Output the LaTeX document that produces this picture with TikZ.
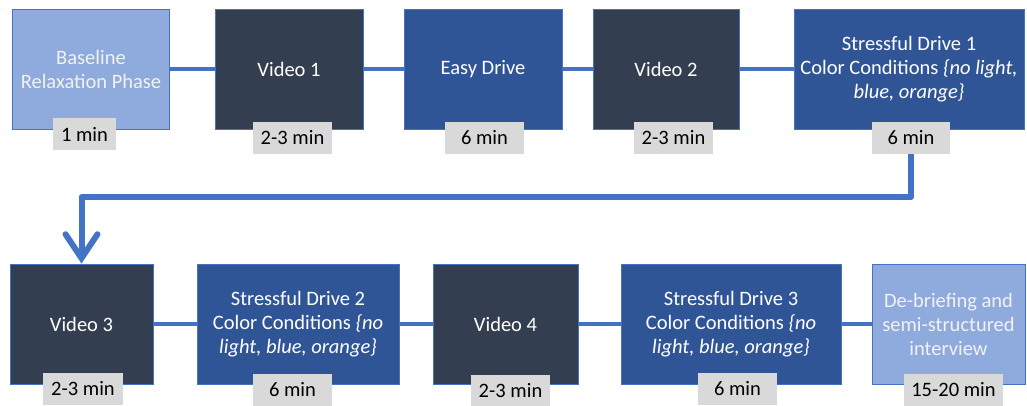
\documentclass[tikz,border=0pt]{standalone}
\usepackage{fontspec}
\setmainfont{Carlito}
\usetikzlibrary{arrows.meta}
\definecolor{lightbl}{HTML}{8FAADC}
\definecolor{darkbox}{HTML}{333F50}
\definecolor{midbl}{HTML}{2F5597}
\definecolor{edgebl}{HTML}{4472C4}
\definecolor{lblgray}{HTML}{D9D9D9}
\definecolor{paletext}{HTML}{F2F2F2}
\tikzset{
  phase/.style={draw=edgebl, line width=0.8pt, minimum height=120pt, inner sep=2pt,
    align=center, text=white, font=\fontsize{20.5}{24}\selectfont},
  light/.style={phase, fill=lightbl, text=paletext},
  dark/.style={phase, fill=darkbox},
  mid/.style={phase, fill=midbl},
  dur/.style={fill=lblgray, minimum height=32pt, inner sep=0pt, text=black,
    font=\fontsize{20.5}{24}\selectfont},
  link/.style={draw=edgebl, line width=4pt},
  flow/.style={draw=edgebl, line width=6pt, line join=round,
    -{Straight Barb[length=24pt, width=32pt, line cap=round]}}
}
\begin{document}
\begin{tikzpicture}[x=1pt,y=-1pt]
\useasboundingbox[fill=white] (0,0) rectangle (1027,405);
% top row
\node[light, minimum width=157pt] (base) at (91,69) {Baseline\\Relaxation Phase};
\node[dark, minimum width=148pt] (v1) at (289,69) {Video 1};
\node[mid, minimum width=158pt] (easy) at (483,69) {Easy Drive};
\node[dark, minimum width=146pt] (v2) at (666,69) {Video 2};
\node[mid, minimum width=230pt] (sd1) at (909,69) {Stressful Drive 1\\Color Conditions \textit{\{no light,}\\\textit{blue, orange\}}};
% bottom row
\node[dark, minimum width=143pt] (v3) at (81.5,324) {Video 3};
\node[mid, minimum width=202pt] (sd2) at (298,324) {Stressful Drive 2\\Color Conditions \textit{\{no}\\\textit{light, blue, orange\}}};
\node[dark, minimum width=145pt] (v4) at (505.5,324) {Video 4};
\node[mid, minimum width=220pt] (sd3) at (731,324) {Stressful Drive 3\\Color Conditions \textit{\{no}\\\textit{light, blue, orange\}}};
\node[light, minimum width=153pt] (deb) at (948.5,324) {De-briefing and\\semi-structured\\interview};
% connectors
\draw[link] (base) -- (v1);
\draw[link] (v1) -- (easy);
\draw[link] (easy) -- (v2);
\draw[link] (v2) -- (sd1);
\draw[link] (v3) -- (sd2);
\draw[link] (sd2) -- (v4);
\draw[link] (v4) -- (sd3);
\draw[link] (sd3) -- (deb);
% duration labels
\node[dur, minimum width=63pt] (t1) at (84.5,134) {1 min};
\node[dur, minimum width=79pt] (t2) at (292.5,138) {2-3 min};
\node[dur, minimum width=79pt] (t3) at (484.5,138) {6 min};
\node[dur, minimum width=79pt] (t4) at (673.5,138) {2-3 min};
\node[dur, minimum width=78pt] (t5) at (911,138) {6 min};
\node[dur, minimum width=80pt] (t6) at (83,389) {2-3 min};
\node[dur, minimum width=79pt] (t7) at (292.5,390) {6 min};
\node[dur, minimum width=79pt] (t8) at (510.5,391) {2-3 min};
\node[dur, minimum width=79pt] (t9) at (737.5,389) {6 min};
\node[dur, minimum width=99pt] (t10) at (953.5,390) {15-20 min};
% wrap-around arrow
\coordinate (turn) at (911,197);
\draw[flow] (t5.south) -- (turn) -| (v3.north);
\end{tikzpicture}
\end{document}
